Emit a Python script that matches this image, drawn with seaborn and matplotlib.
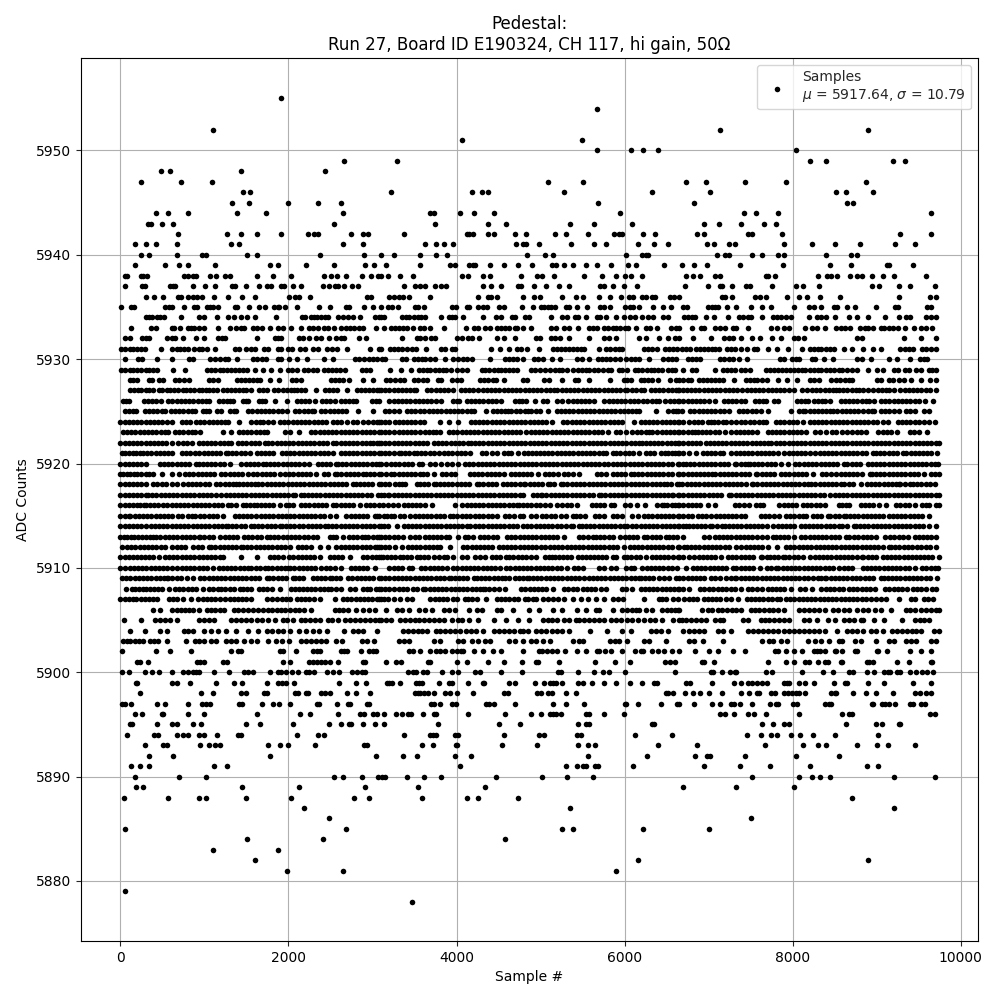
import matplotlib
matplotlib.use("Agg")
import matplotlib.pyplot as plt
import seaborn as sns
import pandas as pd

# Sample positions per ADC level, in tens of samples.
row_5955 = [191]
row_5954 = [567]
row_5952 = [110, 714, 889]
row_5951 = [407, 549]
row_5950 = [567, 608, 622, 640, 804]
row_5949 = [266, 329, 821, 840, 919, 934]
row_5948 = [48, 59, 143, 244]
row_5947 = [25, 72, 109, 509, 550, 673, 697, 743, 792, 887]
row_5946 = [146, 154, 322, 418, 430, 438, 528, 633, 701, 852, 863, 895]
row_5945 = [133, 153, 200, 235, 263, 568, 682, 865, 872]
row_5944 = [43, 57, 80, 139, 173, 265, 368, 373, 404, 421, 444, 595, 742, 756, 782, 965]
row_5943 = [33, 37, 50, 63, 254, 374, 437, 459, 535, 564, 609, 695, 712, 739, 766, 780]
row_5942 = [69, 127, 144, 163, 191, 223, 230, 235, 274, 289, 295, 337, 412, 415, 419, 437, 445, 470, 483, 517, 530, 556, 587, 593, 597, 622, 636, 686, 695, 747, 751, 787, 928, 964]
row_5941 = [18, 31, 43, 67, 132, 141, 265, 289, 362, 375, 385, 396, 471, 479, 483, 498, 536, 564, 578, 616, 635, 652, 698, 706, 724, 731, 789, 823, 850, 880, 922, 946]
row_5940 = [25, 34, 68, 97, 102, 151, 162, 238, 290, 310, 326, 356, 376, 389, 484, 505, 515, 602, 621, 625, 628, 710, 719, 724, 752, 764, 783, 790, 839, 869, 877]
row_5939 = [18, 53, 70, 81, 113, 178, 187, 221, 254, 291, 302, 316, 357, 392, 398, 415, 419, 422, 440, 456, 473, 490, 513, 518, 528, 539, 554, 567, 584, 604, 613, 647, 668, 682, 698, 737, 788, 844, 869, 912, 915, 943]
row_5938 = [6, 8, 24, 27, 32, 76, 80, 86, 90, 107, 114, 124, 131, 162, 182, 203, 242, 251, 258, 268, 287, 298, 306, 310, 318, 333, 348, 407, 414, 432, 440, 477, 496, 502, 516, 552, 573, 590, 600, 608, 621, 673, 681, 690, 708, 713, 768, 771, 779, 830, 841, 846, 853, 868, 876, 882, 894, 907, 920, 959]
row_5937 = [6, 26, 29, 59, 63, 65, 86, 101, 113, 133, 137, 149, 165, 175, 179, 191, 195, 206, 215, 241, 248, 255, 259, 266, 276, 283, 337, 350, 357, 363, 374, 381, 388, 431, 441, 453, 473, 477, 492, 506, 522, 534, 571, 575, 586, 599, 615, 672, 699, 713, 716, 728, 744, 749, 775, 804, 812, 831, 894, 903, 926, 939, 969]
row_5936 = [30, 40, 51, 69, 72, 81, 87, 91, 97, 112, 128, 145, 160, 201, 208, 213, 226, 293, 298, 320, 326, 331, 336, 344, 369, 425, 437, 441, 448, 479, 492, 499, 526, 542, 551, 570, 582, 596, 605, 610, 621, 625, 632, 636, 654, 659, 665, 716, 719, 728, 755, 761, 768, 793, 807, 817, 832, 856, 927, 963, 970]
row_5935 = [1, 13, 16, 53, 58, 62, 76, 88, 91, 103, 107, 110, 116, 137, 139, 153, 165, 172, 183, 187, 189, 196, 210, 236, 249, 268, 272, 290, 301, 310, 318, 323, 330, 350, 354, 361, 395, 399, 412, 415, 425, 432, 436, 451, 456, 478, 491, 500, 504, 509, 512, 517, 530, 534, 543, 555, 571, 576, 582, 601, 606, 610, 617, 634, 646, 655, 669, 674, 699, 704, 707, 711, 722, 733, 750, 764, 774, 801, 819, 825, 834, 849, 853, 864, 874, 899, 922, 925, 960, 964]
row_5934 = [30, 34, 38, 44, 47, 52, 72, 94, 100, 115, 128, 135, 143, 151, 160, 185, 216, 220, 227, 230, 234, 239, 244, 247, 259, 265, 271, 277, 285, 303, 308, 310, 314, 335, 340, 344, 349, 354, 358, 363, 382, 391, 394, 398, 408, 432, 447, 453, 466, 470, 482, 486, 512, 526, 532, 541, 545, 554, 567, 571, 578, 590, 599, 606, 612, 621, 628, 634, 646, 652, 671, 675, 680, 684, 697, 706, 723, 736, 741, 747, 750, 763, 776, 781, 786, 792, 798, 819, 829, 834, 839, 850, 867, 876, 889, 910, 927, 935, 940, 959, 965, 971]
row_5933 = [13, 36, 43, 61, 64, 71, 80, 84, 88, 94, 99, 116, 131, 138, 143, 147, 158, 162, 168, 178, 188, 194, 203, 215, 225, 229, 235, 242, 247, 254, 263, 269, 273, 278, 284, 289, 304, 314, 322, 327, 331, 336, 341, 348, 356, 361, 368, 385, 411, 421, 426, 434, 440, 448, 453, 458, 463, 469, 472, 479, 489, 512, 518, 528, 534, 545, 557, 562, 567, 576, 580, 586, 590, 595, 600, 604, 614, 625, 630, 638, 655, 661, 665, 680, 691, 694, 708, 713, 719, 729, 733, 747, 774, 781, 790, 795, 814, 823, 829, 838, 851, 857, 862, 868, 880, 886, 890, 895, 905, 908, 914, 919, 925, 934, 944, 953, 958, 966]
row_5932 = [6, 11, 26, 31, 34, 56, 61, 65, 75, 90, 100, 116, 121, 125, 162, 184, 188, 191, 213, 217, 225, 233, 239, 248, 257, 263, 266, 284, 292, 335, 353, 356, 362, 370, 374, 401, 406, 414, 418, 427, 448, 456, 469, 495, 499, 512, 517, 523, 534, 558, 575, 581, 590, 617, 625, 641, 651, 660, 665, 681, 703, 718, 724, 729, 739, 751, 761, 775, 786, 801, 806, 813, 877, 882, 932, 952, 970]
row_5931 = [1, 6, 11, 15, 20, 25, 29, 48, 62, 67, 71, 76, 81, 88, 93, 97, 103, 113, 137, 141, 150, 156, 160, 171, 176, 187, 191, 200, 204, 214, 220, 229, 235, 246, 252, 258, 270, 297, 308, 310, 321, 326, 330, 335, 341, 347, 352, 364, 381, 386, 394, 398, 441, 452, 463, 472, 477, 484, 498, 515, 519, 524, 529, 534, 538, 543, 548, 552, 569, 578, 583, 588, 593, 597, 623, 628, 633, 638, 648, 653, 658, 662, 668, 673, 678, 685, 690, 694, 699, 704, 708, 712, 722, 726, 731, 739, 745, 754, 758, 770, 781, 794, 811, 820, 825, 830, 834, 839, 844, 849, 861, 870, 884, 896, 905, 928, 933, 938, 943, 954, 959, 964, 971]
row_5930 = [5, 21, 26, 44, 61, 82, 87, 107, 113, 118, 124, 128, 139, 158, 163, 168, 173, 187, 191, 201, 210, 222, 242, 253, 279, 284, 290, 296, 301, 305, 311, 315, 335, 340, 349, 354, 359, 363, 369, 374, 386, 396, 402, 408, 413, 418, 440, 458, 463, 467, 472, 479, 492, 497, 503, 513, 523, 543, 549, 557, 568, 573, 578, 583, 589, 594, 602, 607, 612, 617, 629, 646, 651, 656, 661, 675, 680, 685, 690, 713, 718, 724, 729, 736, 745, 785, 790, 799, 804, 808, 823, 827, 837, 848, 877, 882, 893, 914, 924, 939, 951, 956, 960]
row_5929 = [1, 6, 11, 15, 20, 25, 30, 34, 39, 44, 63, 77, 103, 108, 113, 118, 122, 127, 132, 137, 141, 146, 151, 160, 170, 179, 190, 200, 204, 210, 219, 223, 229, 234, 242, 247, 252, 257, 261, 267, 287, 292, 297, 321, 334, 346, 355, 360, 365, 369, 374, 379, 384, 388, 393, 400, 407, 412, 430, 434, 439, 444, 449, 453, 458, 463, 467, 472, 489, 493, 499, 505, 511, 517, 522, 526, 532, 539, 544, 549, 554, 558, 563, 568, 574, 580, 584, 593, 597, 603, 612, 616, 621, 626, 631, 635, 640, 645, 652, 656, 660, 670, 680, 685, 707, 717, 722, 726, 731, 738, 743, 749, 768, 773, 778, 783, 787, 792, 797, 801, 806, 811, 815, 820, 825, 830, 834, 839, 844, 849, 855, 859, 865, 871, 877, 890, 900, 907, 920, 925, 933, 938, 947, 952, 962, 966, 971]
row_5928 = [11, 15, 20, 34, 38, 46, 51, 65, 70, 76, 82, 106, 110, 116, 139, 144, 148, 153, 158, 163, 166, 178, 189, 204, 209, 215, 251, 255, 260, 265, 272, 289, 301, 316, 321, 327, 333, 337, 349, 354, 360, 365, 378, 382, 394, 400, 405, 428, 433, 438, 443, 447, 456, 479, 484, 504, 510, 526, 541, 545, 557, 583, 599, 603, 608, 619, 623, 628, 633, 640, 654, 661, 665, 670, 675, 679, 688, 693, 698, 703, 707, 712, 717, 730, 744, 749, 754, 758, 763, 769, 782, 793, 805, 820, 825, 831, 846, 851, 856, 862, 867, 871, 900, 905, 914, 919, 927, 932, 941, 952, 963, 970]
row_5927 = [12, 16, 21, 25, 30, 34, 39, 46, 50, 55, 59, 64, 69, 74, 78, 83, 88, 93, 97, 102, 106, 110, 115, 122, 127, 132, 137, 141, 146, 150, 156, 165, 170, 175, 183, 188, 193, 198, 203, 207, 210, 215, 220, 233, 243, 248, 253, 258, 270, 281, 286, 291, 296, 301, 305, 308, 310, 315, 320, 325, 330, 335, 340, 345, 349, 352, 365, 370, 375, 380, 385, 390, 396, 405, 410, 415, 420, 425, 432, 436, 441, 446, 451, 456, 461, 466, 471, 476, 481, 486, 491, 496, 501, 506, 511, 516, 520, 525, 530, 535, 540, 545, 550, 555, 560, 565, 570, 576, 580, 585, 590, 595, 600, 603, 609, 614, 619, 623, 631, 636, 641, 646, 651, 656, 661, 664, 665, 669, 674, 679, 684, 689, 694, 699, 704, 709, 714, 719, 724, 729, 734, 740, 745, 750, 755, 760, 765, 770, 775, 780, 785, 790, 795, 802, 811, 817, 823, 828, 833, 838, 843, 848, 851, 855, 860, 865, 870, 875, 879, 883, 890, 896, 901, 906, 911, 915, 921, 928, 933, 938, 943, 948, 953, 958, 963, 970]
row_5926 = [3, 7, 10, 28, 33, 38, 43, 48, 57, 62, 67, 72, 77, 82, 87, 92, 97, 102, 105, 117, 122, 127, 131, 134, 146, 150, 152, 165, 169, 172, 184, 198, 210, 215, 220, 225, 232, 240, 245, 250, 255, 262, 267, 272, 277, 280, 300, 304, 308, 320, 325, 330, 335, 340, 345, 350, 355, 360, 365, 370, 375, 382, 396, 400, 403, 412, 417, 422, 427, 432, 437, 442, 447, 453, 470, 474, 478, 483, 493, 503, 508, 520, 526, 533, 538, 543, 548, 553, 558, 564, 576, 581, 586, 591, 596, 601, 606, 611, 616, 622, 627, 632, 637, 641, 648, 654, 659, 664, 665, 669, 675, 680, 685, 690, 695, 700, 707, 718, 723, 728, 733, 738, 743, 755, 760, 765, 768, 778, 782, 805, 810, 815, 818, 825, 830, 835, 838, 844, 857, 862, 867, 872, 877, 882, 887, 891, 897, 905, 910, 915, 920, 925, 930, 935, 940, 945, 950, 957, 967]
row_5925 = [6, 10, 15, 19, 29, 34, 39, 44, 49, 53, 60, 65, 70, 75, 80, 85, 89, 98, 102, 106, 115, 120, 131, 135, 138, 152, 157, 162, 167, 172, 177, 182, 187, 192, 198, 208, 213, 218, 223, 228, 231, 239, 244, 249, 254, 259, 264, 269, 283, 301, 315, 320, 325, 331, 341, 346, 351, 356, 361, 367, 372, 377, 382, 387, 392, 397, 402, 407, 412, 417, 421, 435, 443, 448, 453, 458, 461, 465, 471, 476, 481, 485, 489, 494, 499, 509, 519, 524, 529, 534, 539, 544, 549, 554, 559, 564, 569, 574, 579, 584, 589, 594, 599, 604, 609, 614, 617, 637, 652, 657, 661, 664, 668, 678, 683, 688, 693, 698, 703, 708, 713, 718, 724, 736, 741, 746, 751, 756, 762, 770, 798, 808, 812, 815, 820, 825, 830, 835, 840, 844, 848, 853, 858, 863, 868, 873, 878, 883, 889, 894, 897, 905, 910, 915, 920, 926, 935, 940, 946, 956, 962]
row_5924 = [0, 5, 10, 15, 20, 25, 30, 35, 40, 45, 50, 55, 61, 73, 78, 83, 90, 95, 100, 105, 110, 115, 120, 125, 128, 141, 156, 161, 166, 170, 176, 182, 190, 195, 200, 205, 210, 215, 220, 225, 230, 235, 240, 245, 253, 258, 263, 270, 277, 282, 289, 295, 301, 305, 308, 310, 315, 320, 327, 331, 336, 341, 346, 351, 356, 361, 380, 391, 402, 417, 422, 427, 432, 436, 442, 447, 452, 457, 462, 467, 472, 477, 482, 487, 492, 497, 502, 507, 514, 527, 532, 537, 542, 547, 552, 557, 562, 567, 572, 577, 582, 587, 592, 597, 611, 619, 624, 629, 634, 639, 644, 649, 654, 659, 664, 665, 669, 677, 682, 687, 692, 699, 703, 706, 711, 717, 720, 726, 733, 739, 743, 749, 754, 760, 765, 768, 780, 785, 790, 795, 800, 805, 812, 820, 825, 830, 835, 840, 845, 850, 855, 860, 865, 870, 875, 880, 885, 890, 895, 900, 907, 913, 925, 930, 935, 940, 945, 950, 956, 962, 969]
row_5923 = [3, 8, 13, 18, 23, 28, 33, 38, 43, 48, 53, 57, 65, 70, 75, 80, 85, 89, 95, 122, 132, 141, 146, 151, 156, 161, 166, 171, 175, 196, 202, 213, 227, 232, 237, 242, 247, 252, 257, 262, 267, 272, 277, 282, 287, 292, 297, 302, 308, 310, 315, 320, 325, 332, 336, 341, 346, 351, 356, 363, 367, 372, 376, 380, 391, 396, 401, 406, 411, 416, 421, 426, 431, 436, 441, 446, 451, 456, 461, 466, 471, 476, 483, 488, 493, 498, 503, 508, 513, 518, 523, 528, 533, 538, 543, 548, 553, 558, 563, 568, 573, 580, 590, 595, 602, 609, 615, 620, 625, 629, 633, 639, 644, 649, 654, 659, 664, 665, 670, 675, 680, 684, 687, 692, 697, 702, 707, 712, 719, 727, 732, 737, 742, 747, 752, 758, 770, 775, 780, 785, 790, 795, 800, 805, 810, 816, 827, 833, 840, 847, 852, 859, 865, 871, 876, 881, 887, 902, 907, 912, 917, 924, 939, 944, 950, 960]
row_5922 = [0, 5, 10, 15, 20, 25, 30, 35, 40, 45, 50, 54, 62, 69, 74, 79, 85, 93, 98, 103, 108, 113, 118, 123, 128, 132, 140, 145, 150, 155, 160, 165, 172, 176, 181, 186, 191, 196, 201, 206, 211, 216, 221, 226, 231, 236, 241, 246, 253, 257, 262, 267, 272, 277, 282, 287, 292, 297, 301, 305, 308, 310, 315, 320, 325, 330, 335, 340, 345, 350, 355, 360, 365, 373, 378, 383, 388, 393, 398, 403, 408, 414, 417, 422, 427, 432, 437, 442, 447, 452, 457, 462, 467, 472, 477, 482, 487, 492, 497, 502, 507, 512, 517, 522, 527, 532, 537, 542, 547, 552, 557, 562, 567, 572, 577, 582, 587, 592, 597, 602, 607, 612, 617, 621, 625, 630, 635, 640, 645, 650, 655, 660, 664, 665, 670, 675, 680, 685, 690, 697, 701, 706, 711, 716, 721, 726, 731, 736, 741, 746, 751, 756, 761, 766, 770, 774, 780, 785, 790, 795, 800, 805, 810, 815, 820, 825, 830, 835, 840, 845, 850, 855, 860, 865, 870, 875, 880, 885, 890, 895, 900, 905, 910, 915, 920, 925, 930, 935, 940, 945, 950, 955, 960, 965, 970, 974]
row_5921 = [2, 6, 10, 15, 19, 23, 27, 32, 37, 42, 47, 52, 57, 62, 73, 78, 83, 89, 94, 99, 104, 109, 114, 119, 126, 128, 133, 138, 143, 148, 154, 162, 167, 172, 177, 182, 192, 197, 202, 207, 212, 217, 222, 227, 232, 237, 242, 247, 253, 262, 267, 272, 277, 282, 287, 292, 297, 302, 308, 310, 315, 320, 325, 331, 334, 339, 344, 349, 353, 358, 363, 368, 373, 379, 385, 390, 395, 400, 405, 410, 416, 430, 435, 442, 448, 457, 461, 465, 473, 480, 485, 490, 495, 499, 504, 509, 514, 519, 524, 529, 534, 539, 544, 549, 554, 559, 564, 569, 574, 578, 586, 590, 594, 600, 605, 610, 617, 625, 630, 635, 643, 648, 652, 656, 660, 664, 665, 670, 677, 685, 693, 698, 703, 708, 713, 717, 727, 732, 737, 742, 747, 752, 757, 762, 767, 772, 777, 783, 790, 795, 800, 805, 810, 815, 820, 826, 832, 837, 842, 847, 852, 857, 862, 867, 872, 877, 882, 887, 895, 899, 904, 909, 914, 919, 924, 931, 935, 941, 945, 950, 955, 960, 965, 972]
row_5920 = [0, 5, 10, 15, 20, 25, 31, 47, 52, 57, 61, 67, 72, 77, 82, 90, 93, 98, 103, 108, 113, 118, 123, 130, 144, 149, 154, 159, 164, 170, 173, 178, 183, 188, 193, 198, 203, 208, 213, 218, 225, 235, 240, 245, 250, 257, 259, 264, 269, 274, 279, 284, 289, 294, 299, 304, 308, 310, 316, 322, 327, 332, 337, 342, 347, 355, 359, 369, 374, 381, 389, 394, 402, 410, 415, 420, 425, 430, 435, 440, 445, 450, 455, 460, 465, 470, 475, 480, 485, 490, 495, 500, 505, 510, 515, 520, 525, 530, 535, 540, 545, 550, 555, 560, 565, 570, 575, 580, 586, 591, 596, 601, 606, 611, 616, 621, 626, 631, 636, 641, 646, 651, 656, 664, 665, 669, 673, 678, 683, 688, 693, 698, 703, 708, 713, 718, 723, 731, 733, 738, 743, 747, 749, 754, 759, 764, 769, 774, 779, 786, 794, 803, 808, 813, 818, 823, 828, 834, 838, 843, 848, 853, 861, 865, 870, 875, 880, 889, 894, 899, 904, 909, 914, 919, 924, 929, 934, 939, 944, 949, 954, 959, 964, 969, 973]
row_5919 = [0, 3, 8, 12, 16, 20, 25, 30, 34, 39, 49, 61, 70, 77, 82, 87, 92, 97, 102, 107, 112, 120, 125, 130, 135, 140, 145, 152, 158, 163, 168, 173, 178, 183, 190, 196, 201, 206, 211, 216, 221, 226, 233, 242, 247, 255, 258, 263, 268, 273, 278, 283, 289, 292, 297, 302, 308, 310, 316, 322, 326, 331, 336, 341, 346, 351, 356, 360, 365, 373, 383, 388, 393, 398, 416, 421, 426, 430, 436, 441, 446, 451, 456, 465, 469, 474, 479, 484, 489, 497, 505, 510, 515, 521, 528, 533, 538, 546, 567, 572, 578, 586, 591, 596, 601, 607, 611, 616, 621, 626, 631, 636, 641, 646, 651, 656, 664, 665, 670, 675, 680, 685, 690, 695, 699, 704, 708, 713, 718, 723, 728, 733, 738, 743, 748, 756, 758, 763, 768, 773, 778, 786, 791, 796, 801, 806, 811, 816, 824, 835, 840, 845, 851, 857, 862, 867, 872, 877, 882, 892, 894, 899, 904, 909, 914, 919, 924, 929, 934, 939, 944, 949, 956, 964, 969, 974]
row_5918 = [0, 5, 10, 15, 20, 25, 31, 39, 44, 49, 54, 61, 68, 75, 80, 85, 90, 95, 101, 106, 114, 119, 124, 129, 134, 138, 141, 146, 151, 156, 160, 164, 169, 174, 179, 184, 189, 194, 199, 204, 209, 214, 219, 224, 229, 234, 239, 244, 249, 254, 259, 264, 269, 277, 280, 285, 290, 295, 300, 308, 310, 315, 320, 327, 331, 335, 339, 353, 356, 361, 366, 373, 375, 380, 385, 390, 395, 400, 405, 410, 415, 424, 427, 432, 437, 442, 447, 455, 460, 465, 470, 475, 480, 481, 487, 492, 497, 502, 509, 511, 516, 524, 527, 532, 537, 542, 547, 552, 557, 562, 567, 572, 577, 582, 587, 592, 597, 602, 607, 612, 617, 622, 627, 632, 637, 642, 647, 650, 655, 662, 665, 668, 674, 679, 684, 689, 694, 699, 704, 709, 714, 719, 724, 729, 734, 739, 744, 752, 753, 758, 763, 768, 773, 778, 783, 788, 793, 798, 803, 808, 813, 818, 822, 827, 832, 837, 842, 847, 852, 857, 861, 867, 872, 881, 888, 893, 898, 903, 908, 913, 918, 923, 927, 928, 933, 939, 943, 948, 953, 958, 963, 969]
row_5917 = [0, 5, 10, 15, 20, 25, 30, 33, 38, 43, 48, 53, 58, 63, 68, 73, 78, 83, 88, 93, 98, 103, 108, 114, 120, 126, 130, 135, 140, 145, 150, 155, 160, 165, 170, 175, 180, 185, 190, 195, 200, 205, 208, 215, 218, 223, 228, 233, 238, 243, 248, 253, 258, 263, 268, 273, 278, 283, 288, 293, 298, 306, 310, 314, 318, 320, 325, 330, 335, 340, 345, 350, 355, 360, 365, 370, 375, 380, 385, 390, 395, 400, 405, 410, 415, 420, 425, 430, 435, 440, 445, 450, 455, 460, 465, 470, 475, 479, 491, 496, 500, 502, 507, 512, 517, 522, 527, 532, 537, 542, 547, 552, 557, 562, 570, 572, 577, 582, 587, 592, 597, 602, 607, 612, 617, 622, 627, 632, 637, 642, 647, 652, 656, 658, 664, 665, 670, 675, 680, 685, 690, 695, 700, 705, 710, 715, 724, 727, 732, 737, 742, 747, 752, 757, 762, 767, 772, 777, 782, 787, 792, 797, 802, 807, 812, 817, 822, 827, 832, 837, 844, 850, 855, 860, 865, 870, 875, 880, 885, 890, 895, 900, 905, 910, 915, 920, 925, 930, 935, 940, 945, 950, 955, 960, 965, 970, 974]
row_5916 = [0, 5, 10, 15, 20, 23, 28, 31, 35, 40, 45, 51, 56, 61, 66, 71, 76, 81, 86, 91, 96, 101, 106, 111, 116, 121, 128, 132, 138, 146, 149, 154, 159, 162, 167, 172, 177, 182, 190, 197, 201, 205, 215, 220, 225, 230, 235, 240, 245, 253, 257, 262, 267, 272, 277, 285, 292, 297, 302, 308, 312, 318, 324, 330, 337, 342, 347, 352, 357, 362, 371, 398, 407, 412, 417, 422, 427, 432, 437, 442, 447, 452, 457, 462, 467, 472, 474, 479, 484, 489, 494, 499, 505, 511, 519, 526, 531, 536, 543, 561, 566, 571, 576, 584, 587, 600, 606, 615, 624, 639, 644, 647, 650, 656, 660, 664, 665, 670, 675, 680, 685, 690, 699, 707, 731, 736, 742, 748, 756, 761, 765, 784, 789, 794, 799, 804, 812, 817, 822, 828, 832, 838, 855, 859, 863, 867, 881, 886, 891, 895, 903, 911, 923, 928, 933, 938, 945, 954, 958, 962, 970, 974]
row_5915 = [0, 5, 10, 12, 17, 22, 27, 32, 37, 42, 47, 52, 57, 62, 69, 73, 81, 85, 89, 95, 100, 105, 110, 115, 122, 136, 141, 146, 151, 156, 161, 167, 172, 177, 182, 187, 192, 197, 202, 207, 212, 217, 222, 227, 232, 237, 242, 249, 257, 269, 274, 279, 284, 289, 294, 303, 305, 308, 314, 317, 322, 326, 333, 338, 345, 350, 355, 360, 365, 370, 375, 380, 385, 392, 396, 401, 406, 411, 416, 422, 427, 432, 437, 442, 448, 458, 463, 468, 475, 479, 489, 495, 502, 507, 512, 517, 524, 530, 538, 542, 547, 553, 565, 570, 576, 586, 591, 597, 609, 616, 623, 628, 633, 639, 643, 648, 653, 658, 664, 665, 670, 675, 680, 687, 692, 697, 703, 709, 713, 718, 723, 728, 733, 738, 743, 762, 767, 772, 778, 784, 792, 797, 802, 807, 812, 816, 824, 829, 834, 842, 844, 850, 855, 861, 863, 868, 873, 878, 883, 888, 893, 898, 903, 907, 914, 919, 924, 929, 934, 939, 944, 949, 954, 962]
row_5914 = [0, 5, 10, 15, 20, 25, 31, 36, 41, 46, 51, 56, 61, 66, 71, 76, 81, 86, 91, 96, 101, 106, 111, 116, 121, 126, 128, 133, 138, 143, 148, 156, 159, 164, 169, 174, 179, 184, 190, 192, 197, 202, 207, 212, 217, 223, 228, 233, 238, 243, 247, 252, 257, 262, 267, 272, 277, 282, 287, 292, 297, 302, 308, 310, 314, 318, 329, 337, 342, 347, 352, 357, 362, 367, 372, 377, 382, 387, 392, 397, 402, 407, 412, 416, 422, 427, 432, 437, 442, 447, 452, 457, 462, 467, 472, 479, 484, 489, 494, 499, 504, 509, 514, 519, 524, 530, 536, 538, 546, 549, 554, 559, 564, 569, 574, 579, 584, 589, 594, 599, 603, 609, 614, 619, 624, 629, 634, 639, 644, 649, 654, 659, 664, 665, 669, 673, 676, 681, 686, 691, 696, 701, 704, 710, 716, 719, 724, 729, 734, 739, 744, 749, 754, 759, 764, 769, 776, 782, 787, 792, 797, 802, 810, 814, 819, 824, 829, 834, 839, 844, 849, 855, 859, 865, 873, 875, 880, 885, 890, 895, 900, 905, 910, 915, 920, 925, 930, 935, 940, 945, 950, 955, 962, 970]
row_5913 = [0, 4, 8, 13, 16, 21, 26, 31, 35, 39, 43, 47, 53, 58, 63, 68, 73, 78, 83, 88, 93, 95, 100, 105, 110, 118, 124, 129, 134, 139, 147, 152, 157, 162, 167, 174, 178, 183, 188, 193, 198, 203, 208, 213, 218, 223, 229, 234, 249, 253, 257, 265, 272, 277, 282, 287, 291, 295, 301, 305, 308, 310, 315, 320, 325, 330, 336, 345, 350, 355, 363, 367, 372, 377, 382, 387, 391, 402, 410, 414, 420, 428, 433, 438, 443, 448, 460, 465, 470, 475, 480, 485, 490, 495, 500, 505, 510, 515, 520, 528, 546, 551, 556, 562, 566, 571, 576, 581, 586, 595, 600, 605, 610, 615, 623, 627, 632, 637, 642, 649, 653, 658, 662, 670, 695, 700, 707, 712, 717, 722, 727, 732, 737, 742, 747, 752, 757, 764, 769, 776, 780, 785, 790, 794, 802, 810, 815, 820, 825, 830, 835, 840, 845, 850, 855, 863, 867, 873, 878, 883, 888, 893, 899, 910, 916, 921, 926, 931, 937, 945, 950, 955, 960, 965, 970]
row_5912 = [2, 8, 13, 18, 23, 28, 33, 38, 43, 48, 53, 61, 67, 72, 77, 87, 92, 97, 105, 108, 113, 118, 123, 128, 133, 138, 144, 146, 151, 156, 161, 166, 171, 176, 181, 186, 191, 196, 202, 211, 216, 221, 227, 237, 247, 257, 262, 267, 272, 277, 282, 287, 292, 297, 303, 305, 308, 310, 315, 320, 327, 335, 342, 347, 352, 357, 362, 367, 372, 377, 380, 392, 408, 413, 418, 423, 428, 433, 438, 442, 450, 455, 460, 465, 470, 475, 480, 485, 490, 495, 500, 505, 511, 516, 521, 526, 531, 536, 541, 546, 551, 556, 561, 566, 571, 576, 581, 586, 591, 599, 606, 611, 616, 621, 626, 631, 636, 641, 646, 651, 656, 664, 665, 671, 674, 679, 684, 689, 694, 699, 704, 709, 714, 719, 724, 733, 739, 744, 749, 754, 759, 764, 771, 781, 792, 797, 802, 807, 812, 817, 822, 828, 832, 837, 842, 847, 851, 857, 862, 867, 872, 877, 882, 887, 892, 897, 902, 907, 914, 917, 922, 927, 932, 937, 942, 948, 953, 958, 963, 970]
row_5911 = [0, 5, 10, 15, 20, 25, 29, 34, 39, 46, 53, 58, 63, 68, 73, 78, 83, 88, 93, 98, 103, 108, 113, 118, 122, 143, 163, 178, 183, 188, 193, 201, 206, 211, 216, 221, 226, 231, 237, 249, 254, 259, 264, 273, 289, 294, 299, 304, 308, 310, 313, 317, 322, 327, 333, 336, 341, 346, 353, 356, 361, 366, 373, 379, 385, 389, 396, 406, 412, 422, 428, 434, 442, 447, 452, 459, 463, 467, 473, 478, 483, 488, 495, 505, 510, 514, 517, 522, 527, 532, 536, 544, 549, 554, 559, 564, 568, 573, 578, 586, 590, 599, 603, 608, 613, 618, 625, 632, 637, 642, 647, 652, 657, 664, 665, 670, 676, 683, 688, 693, 698, 703, 708, 715, 723, 728, 733, 738, 743, 748, 753, 762, 764, 769, 773, 778, 783, 788, 791, 796, 801, 806, 812, 821, 826, 831, 836, 841, 846, 851, 856, 861, 866, 871, 876, 882, 884, 889, 894, 899, 907, 912, 917, 922, 927, 932, 937, 942, 947, 951, 956, 961, 966, 974]
row_5910 = [0, 5, 11, 16, 21, 26, 31, 36, 41, 46, 51, 56, 61, 68, 73, 78, 83, 88, 93, 98, 103, 110, 117, 122, 127, 132, 137, 142, 147, 152, 156, 161, 166, 172, 176, 181, 186, 191, 196, 200, 202, 207, 212, 217, 222, 227, 232, 239, 245, 250, 255, 263, 274, 279, 284, 289, 294, 303, 320, 325, 330, 335, 343, 347, 358, 363, 368, 373, 378, 383, 389, 396, 401, 406, 411, 416, 421, 426, 431, 436, 441, 446, 452, 459, 464, 469, 474, 479, 484, 489, 494, 499, 504, 509, 514, 519, 524, 531, 540, 545, 550, 570, 575, 584, 590, 602, 607, 611, 621, 626, 631, 636, 641, 646, 651, 656, 662, 673, 681, 686, 691, 696, 701, 706, 711, 716, 721, 729, 733, 738, 743, 748, 753, 761, 769, 774, 780, 783, 788, 793, 798, 803, 808, 813, 818, 823, 828, 833, 838, 843, 848, 855, 861, 866, 870, 883, 888, 893, 898, 903, 908, 913, 918, 923, 928, 933, 938, 945, 954, 959, 964, 969, 973]
row_5909 = [2, 7, 12, 17, 22, 27, 32, 36, 42, 47, 52, 56, 57, 62, 67, 72, 79, 87, 95, 100, 105, 110, 115, 120, 125, 130, 135, 140, 145, 150, 155, 160, 165, 174, 177, 182, 187, 192, 197, 205, 208, 213, 217, 229, 234, 239, 244, 249, 252, 257, 261, 271, 276, 281, 286, 291, 296, 301, 308, 310, 315, 320, 325, 330, 335, 340, 345, 350, 355, 360, 365, 370, 375, 380, 385, 391, 393, 398, 403, 408, 413, 421, 424, 429, 434, 439, 444, 449, 454, 458, 463, 469, 474, 479, 484, 486, 491, 496, 501, 506, 511, 516, 521, 526, 531, 536, 541, 546, 552, 557, 562, 567, 572, 577, 582, 587, 592, 597, 602, 607, 612, 617, 619, 624, 629, 634, 641, 647, 653, 661, 665, 670, 675, 680, 685, 690, 695, 703, 708, 713, 721, 727, 731, 733, 738, 743, 748, 753, 758, 763, 768, 773, 778, 783, 788, 793, 798, 803, 808, 813, 818, 824, 830, 834, 838, 840, 845, 850, 855, 860, 865, 870, 875, 880, 886, 891, 896, 905, 908, 913, 918, 923, 928, 933, 938, 943, 948, 953, 958, 963, 972]
row_5908 = [7, 14, 17, 22, 27, 30, 35, 40, 45, 50, 58, 65, 70, 75, 80, 85, 90, 98, 105, 110, 116, 120, 125, 130, 135, 142, 146, 151, 156, 165, 170, 175, 180, 190, 203, 208, 213, 217, 222, 227, 232, 237, 242, 247, 251, 256, 263, 273, 279, 289, 293, 297, 304, 308, 310, 315, 320, 325, 331, 336, 341, 348, 353, 360, 363, 368, 373, 378, 383, 388, 393, 398, 403, 408, 413, 418, 423, 428, 432, 434, 439, 444, 450, 458, 477, 482, 487, 492, 497, 502, 507, 515, 528, 533, 538, 543, 550, 555, 560, 565, 572, 578, 597, 602, 609, 619, 624, 629, 634, 639, 644, 649, 654, 659, 664, 665, 670, 676, 690, 695, 700, 705, 711, 716, 721, 726, 731, 739, 747, 752, 757, 764, 770, 775, 780, 785, 790, 798, 809, 815, 823, 834, 839, 844, 849, 855, 860, 867, 872, 877, 882, 887, 892, 898, 910, 915, 920, 925, 930, 936, 943, 948, 953, 958, 966, 971]
row_5907 = [0, 5, 10, 15, 19, 24, 29, 34, 39, 44, 58, 63, 68, 75, 84, 92, 98, 103, 108, 113, 118, 125, 130, 135, 140, 145, 150, 156, 175, 180, 186, 192, 197, 202, 210, 215, 220, 225, 230, 237, 255, 265, 270, 275, 280, 285, 290, 295, 299, 305, 308, 310, 314, 318, 326, 333, 341, 347, 369, 374, 379, 384, 389, 396, 401, 410, 414, 418, 424, 435, 448, 453, 458, 463, 468, 473, 481, 485, 491, 495, 503, 509, 515, 521, 528, 538, 548, 556, 566, 575, 586, 592, 598, 623, 641, 645, 649, 657, 664, 671, 676, 681, 686, 694, 699, 704, 709, 714, 721, 727, 735, 745, 750, 755, 760, 765, 770, 775, 781, 785, 792, 797, 802, 807, 812, 817, 822, 827, 832, 837, 842, 847, 852, 857, 862, 867, 872, 877, 882, 887, 893, 899, 905, 911, 927, 941, 946, 956, 961, 967]
row_5906 = [39, 47, 62, 67, 72, 77, 82, 87, 94, 103, 108, 113, 118, 123, 135, 140, 146, 152, 158, 164, 170, 176, 181, 186, 191, 196, 202, 208, 213, 218, 227, 255, 260, 265, 271, 280, 289, 296, 303, 316, 329, 335, 343, 355, 363, 371, 385, 391, 398, 415, 424, 430, 448, 453, 467, 486, 498, 515, 526, 543, 554, 566, 570, 586, 597, 603, 609, 613, 617, 625, 632, 645, 650, 655, 660, 664, 665, 692, 699, 704, 711, 716, 722, 728, 733, 739, 750, 755, 760, 766, 772, 777, 782, 790, 808, 813, 819, 825, 831, 838, 848, 854, 861, 867, 876, 883, 889, 898, 905, 917, 935, 940, 946, 952, 958, 964, 970, 974]
row_5905 = [4, 24, 41, 47, 53, 59, 67, 93, 99, 105, 112, 132, 138, 144, 150, 156, 162, 169, 176, 184, 193, 198, 206, 215, 220, 226, 232, 238, 247, 252, 259, 267, 273, 279, 285, 291, 297, 303, 308, 310, 316, 322, 333, 339, 345, 351, 355, 361, 367, 373, 379, 385, 394, 402, 406, 415, 426, 444, 459, 473, 486, 503, 509, 514, 519, 528, 534, 542, 546, 552, 558, 564, 570, 576, 584, 590, 596, 603, 609, 616, 623, 630, 636, 645, 658, 665, 668, 673, 679, 685, 691, 697, 707, 713, 717, 741, 747, 762, 767, 772, 778, 784, 790, 796, 813, 819, 829, 842, 850, 861, 867, 873, 881, 884, 897, 909, 930, 945, 951, 956, 962]
row_5904 = [11, 29, 47, 56, 76, 81, 86, 100, 108, 116, 126, 138, 152, 164, 174, 180, 187, 194, 202, 213, 221, 229, 236, 246, 266, 277, 283, 289, 305, 336, 342, 348, 354, 359, 365, 375, 380, 386, 392, 398, 404, 411, 417, 423, 432, 444, 450, 456, 462, 468, 475, 479, 485, 495, 501, 507, 513, 519, 525, 534, 559, 579, 597, 607, 631, 637, 643, 652, 670, 676, 682, 688, 695, 711, 717, 726, 747, 753, 759, 765, 771, 777, 783, 789, 795, 801, 807, 813, 819, 825, 831, 838, 853, 865, 871, 877, 883, 893, 899, 907, 918, 924, 930, 936, 942, 947, 953, 968, 974]
row_5903 = [3, 8, 12, 17, 22, 27, 35, 40, 45, 55, 78, 89, 94, 100, 108, 114, 126, 132, 138, 147, 156, 162, 176, 185, 192, 201, 215, 221, 227, 233, 239, 245, 257, 264, 287, 293, 302, 331, 337, 343, 373, 380, 402, 408, 418, 426, 434, 440, 463, 469, 479, 489, 495, 503, 511, 539, 546, 551, 582, 588, 593, 603, 623, 629, 649, 677, 683, 693, 717, 764, 772, 776, 786, 793, 818, 826, 834, 843, 855, 859, 874, 881, 899, 915, 921, 935, 941, 947, 964, 970]
row_5902 = [2, 43, 59, 84, 132, 140, 144, 190, 194, 209, 229, 234, 238, 263, 266, 270, 286, 296, 301, 304, 344, 348, 356, 368, 375, 380, 386, 394, 401, 405, 408, 421, 431, 443, 453, 479, 498, 502, 508, 513, 519, 529, 543, 554, 567, 570, 577, 584, 597, 612, 620, 622, 632, 640, 647, 656, 665, 684, 700, 711, 729, 743, 779, 782, 792, 801, 811, 825, 829, 832, 838, 850, 852, 858, 874, 877, 900, 902, 912, 939, 953, 965]
row_5901 = [20, 23, 33, 91, 95, 99, 122, 127, 194, 202, 225, 229, 234, 239, 244, 250, 259, 289, 291, 316, 328, 334, 366, 369, 400, 413, 437, 456, 478, 495, 497, 522, 565, 588, 606, 648, 654, 660, 692, 695, 706, 770, 792, 801, 815, 819, 830, 838, 842, 857, 859, 888, 891, 895, 924, 938, 964, 966]
row_5900 = [2, 10, 29, 38, 46, 61, 75, 80, 86, 90, 94, 112, 129, 147, 152, 158, 178, 188, 191, 197, 204, 211, 221, 225, 230, 246, 253, 260, 276, 282, 287, 291, 342, 348, 352, 360, 365, 383, 395, 402, 422, 428, 453, 478, 521, 524, 544, 564, 574, 581, 600, 660, 703, 705, 716, 725, 731, 733, 768, 775, 811, 836, 848, 867, 872, 888, 897, 909, 913, 916, 924, 928, 940, 947, 954, 960, 967]
row_5899 = [19, 20, 62, 68, 83, 114, 135, 145, 175, 187, 192, 197, 207, 260, 280, 292, 317, 320, 323, 333, 352, 355, 359, 379, 391, 394, 414, 431, 433, 463, 470, 493, 504, 511, 515, 518, 526, 545, 551, 561, 576, 590, 606, 621, 635, 639, 673, 678, 704, 730, 738, 747, 751, 758, 763, 769, 789, 793, 796, 807, 814, 825, 849, 862, 865, 890, 908, 943, 964]
row_5898 = [23, 96, 110, 143, 150, 171, 175, 208, 211, 221, 223, 239, 244, 249, 270, 280, 297, 350, 354, 357, 361, 366, 373, 386, 392, 401, 419, 457, 461, 496, 500, 509, 513, 530, 542, 649, 652, 658, 672, 681, 690, 700, 716, 739, 748, 757, 760, 774, 779, 789, 794, 799, 804, 808, 814, 846, 850, 852, 872, 887, 899, 919, 945, 951, 959, 964]
row_5897 = [2, 6, 13, 44, 53, 80, 97, 102, 107, 141, 145, 168, 182, 189, 202, 234, 236, 258, 271, 273, 293, 296, 370, 373, 380, 394, 399, 435, 439, 444, 469, 515, 530, 552, 600, 602, 616, 643, 662, 665, 682, 704, 714, 726, 730, 737, 751, 773, 780, 782, 800, 805, 838, 843, 846, 894, 896, 906, 910, 915, 922, 939, 943, 953, 957]
row_5896 = [18, 26, 49, 51, 81, 99, 163, 214, 226, 259, 285, 290, 301, 305, 314, 328, 335, 342, 346, 360, 373, 376, 414, 458, 489, 500, 511, 515, 518, 524, 554, 558, 576, 599, 713, 719, 730, 747, 754, 768, 807, 859, 867, 870, 963, 969]
row_5895 = [11, 14, 44, 62, 67, 87, 96, 150, 166, 206, 248, 263, 272, 274, 289, 303, 314, 378, 450, 476, 544, 554, 557, 633, 635, 764, 777, 790, 796, 863, 899, 906, 926, 928]
row_5894 = [8, 40, 45, 68, 74, 80, 94, 100, 115, 140, 144, 210, 235, 242, 337, 369, 372, 376, 398, 402, 456, 498, 504, 543, 548, 612, 656, 745, 762, 774, 781, 798, 809, 824, 850, 902]
row_5893 = [29, 51, 56, 95, 105, 113, 119, 176, 190, 200, 232, 290, 293, 359, 372, 399, 401, 454, 496, 545, 556, 565, 640, 686, 767, 812, 830, 840, 877, 900, 913, 946]
row_5892 = [34, 63, 178, 304, 336, 353, 398, 417, 556, 627, 684, 698, 701, 743, 804, 855]
row_5891 = [13, 23, 34, 112, 127, 404, 530, 543, 551, 554, 565, 568, 610, 695, 737, 773, 821, 888, 902]
row_5890 = [17, 70, 102, 254, 265, 287, 307, 311, 315, 341, 361, 381, 447, 502, 531, 562, 751, 807, 823, 833, 844, 920, 969]
row_5889 = [19, 27, 145, 213, 291, 354, 434, 669, 733, 802]
row_5888 = [4, 57, 93, 102, 149, 203, 278, 296, 359, 412, 425, 473, 870]
row_5887 = [219, 535, 920]
row_5886 = [248, 750]
row_5885 = [6, 268, 525, 538, 622, 700]
row_5884 = [151, 241, 458]
row_5883 = [110, 187]
row_5882 = [160, 616, 890]
row_5881 = [198, 265, 590]
row_5879 = [6]
row_5878 = [347]

levels = [5955, 5954, 5952, 5951, 5950, 5949, 5948, 5947, 5946, 5945, 5944, 5943, 5942,
          5941, 5940, 5939, 5938, 5937, 5936, 5935, 5934, 5933, 5932, 5931, 5930, 5929,
          5928, 5927, 5926, 5925, 5924, 5923, 5922, 5921, 5920, 5919, 5918, 5917, 5916,
          5915, 5914, 5913, 5912, 5911, 5910, 5909, 5908, 5907, 5906, 5905, 5904, 5903,
          5902, 5901, 5900, 5899, 5898, 5897, 5896, 5895, 5894, 5893, 5892, 5891, 5890,
          5889, 5888, 5887, 5886, 5885, 5884, 5883, 5882, 5881, 5879, 5878]

title_text = "Pedestal:\nRun 27, Board ID E190324, CH 117, hi gain, 50\u03a9"
legend_text = "Samples\n$\\mu$ = 5917.64, $\\sigma$ = 10.79"

records = [(t * 10, lv) for lv in levels for t in globals()[f"row_{lv}"]]
df = pd.DataFrame(records, columns=["sample", "adc"])

sns.set_style("white")
plt.rcParams["font.family"] = ["DejaVu Sans"]
plt.rcParams["axes.edgecolor"] = "black"
plt.rcParams["axes.linewidth"] = 0.8

fig, ax = plt.subplots(figsize=(10, 10), dpi=100)
sns.scatterplot(data=df, x="sample", y="adc", color="k", marker="o", s=16, linewidth=0,
                label=legend_text, ax=ax, zorder=2)
ax.set_xlim(-474, 10204)
ax.set_ylim(5874.25, 5958.86)
ax.set_xticks(range(0, 10001, 2000))
ax.set_yticks(range(5880, 5951, 10))
ax.set_yticklabels([str(v) for v in range(5880, 5951, 10)])
ax.grid(True, color="#b0b0b0", linewidth=0.8)
ax.tick_params(axis="both", which="major", direction="out", length=3.5, width=0.8,
               bottom=True, left=True, labelsize=10, labelcolor="#000000")
ax.set_xlabel("Sample #", fontsize=10, color="black")
ax.set_ylabel("ADC Counts", fontsize=10, color="black")
ax.set_title(title_text, fontsize=12, color="black")
ax.legend(loc="upper right", fontsize=10, frameon=True, framealpha=0.8, edgecolor="0.8")
fig.subplots_adjust(left=0.0805, right=0.978, top=0.942, bottom=0.059)
fig.savefig("out.png", dpi=100)
